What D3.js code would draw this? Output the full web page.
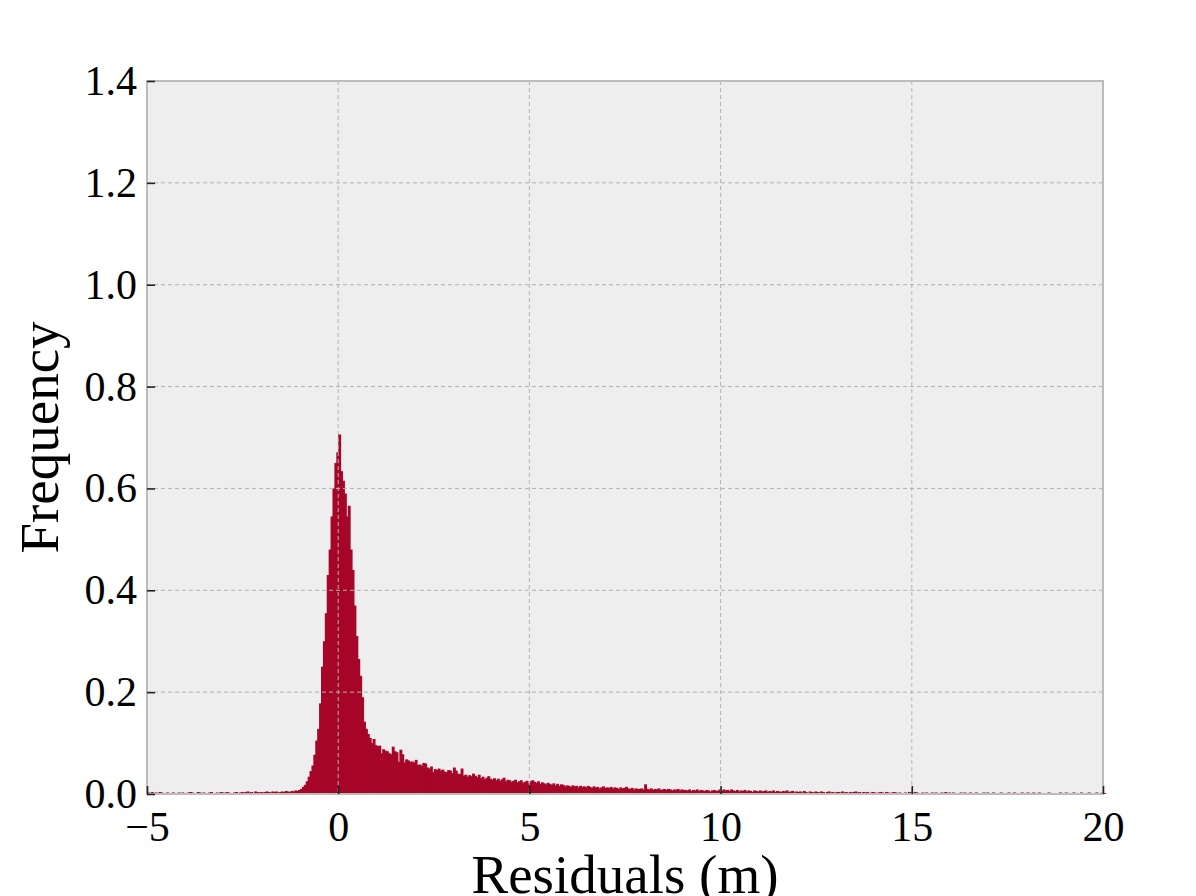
<!DOCTYPE html>
<meta charset="utf-8">
<style>
  body { margin: 0; background: #fff; }
  text { font-family: "Palatino Linotype", "Book Antiqua", Palatino, "Liberation Serif", serif; fill: #000; }
</style>
<body>
<script src="https://cdn.jsdelivr.net/npm/d3@7"></script>
<script>

    var width = 1196,
        height = 896;

    // histogram bins: start at -5, width 0.05
    var binStart = -5,
        binWidth = 0.05;

    var freq = [
        // -5 .. -3
        0.003,0.002,0.004,0,0.003,0.002,0.004,0.003,0,0.002,
        0.003,0,0.002,0.003,0.002,0,0.003,0.002,0.003,0,
        0.002,0.003,0.004,0.003,0,0.002,0.004,0.003,0.002,0.003,
        0,0.002,0.003,0.004,0.002,0,0.003,0.002,0.004,0.003,
        // -3 .. -1
        0.002,0.004,0.003,0.002,0,0.003,0.004,0.002,0.003,0.004,
        0.003,0.004,0.005,0.003,0.004,0.002,0.005,0.004,0.003,0.004,
        0.003,0.004,0.005,0.004,0.003,0.005,0.004,0.005,0.003,0.004,
        0.005,0.004,0.006,0.005,0.004,0.006,0.005,0.007,0.006,0.008,
        // -1 .. 0
        0.010,0.014,0.018,0.025,0.034,0.045,0.056,0.077,0.105,0.128,
        0.178,0.250,0.300,0.355,0.430,0.480,0.545,0.600,0.650,0.671,0.706,
        // 0 .. 1  (first value above closes the -0.05..0 bin)
        0.634,0.615,0.590,0.545,0.566,0.480,0.440,0.370,0.310,0.265,
        0.232,0.190,0.142,0.128,0.118,0.110,0.100,0.108,0.096,0.094,
        // 1 .. 2
        0.095,0.080,0.088,0.085,0.084,0.080,0.078,0.093,0.084,0.082,
        0.063,0.087,0.078,0.062,0.068,0.066,0.063,0.064,0.062,0.067,
        // 2 .. 3
        0.057,0.058,0.056,0.061,0.060,0.052,0.050,0.054,0.043,0.049,
        0.047,0.050,0.046,0.048,0.044,0.043,0.047,0.046,0.041,0.052,
        // 3 .. 4
        0.046,0.040,0.039,0.050,0.036,0.038,0.034,0.037,0.035,0.040,
        0.036,0.033,0.038,0.031,0.034,0.029,0.032,0.035,0.030,0.028,
        // 4 .. 5
        0.031,0.027,0.030,0.026,0.029,0.032,0.025,0.028,0.027,0.024,
        0.026,0.028,0.023,0.025,0.027,0.022,0.024,0.026,0.021,0.025,
        // 5 .. 6
        0.027,0.024,0.022,0.025,0.020,0.023,0.021,0.019,0.022,0.020,
        0.018,0.021,0.017,0.020,0.016,0.019,0.018,0.015,0.017,0.016,
        // 6 .. 7
        0.014,0.017,0.015,0.016,0.013,0.016,0.014,0.015,0.013,0.016,
        0.014,0.012,0.015,0.013,0.014,0.011,0.013,0.015,0.012,0.013,
        // 7 .. 8
        0.012,0.014,0.011,0.013,0.012,0.010,0.013,0.011,0.012,0.014,
        0.011,0.010,0.012,0.009,0.011,0.010,0.010,0.011,0.009,0.019,
        // 8 .. 9
        0.010,0.009,0.011,0.008,0.010,0.009,0.011,0.008,0.009,0.010,
        0.008,0.010,0.009,0.007,0.009,0.008,0.010,0.007,0.009,0.008,
        // 9 .. 10
        0.008,0.007,0.009,0.006,0.008,0.007,0.009,0.006,0.008,0.007,
        0.006,0.008,0.007,0.005,0.007,0.008,0.006,0.007,0.009,0.006,
        // 10 .. 11
        0.009,0.007,0.008,0.006,0.009,0.007,0.006,0.008,0.005,0.007,
        0.006,0.008,0.005,0.007,0.006,0.004,0.007,0.006,0.005,0.007,
        // 11 .. 12
        0.005,0.006,0.007,0.004,0.006,0.005,0.007,0.004,0.006,0.005,
        0.004,0.006,0.005,0.007,0.004,0.005,0.006,0.003,0.005,0.004,
        // 12 .. 13
        0.005,0.003,0.006,0.004,0.002,0.005,0.004,0.003,0.005,0.004,
        0.003,0.005,0.004,0.002,0.004,0.005,0.003,0.004,0.002,0.004,
        // 13 .. 14
        0.004,0.003,0.005,0.003,0.004,0.002,0.004,0.003,0.004,0.005,
        0.003,0.004,0.002,0.004,0.003,0.004,0.002,0.003,0.004,0.003,
        // 14 .. 15
        0.002,0.003,0.004,0.003,0.002,0.004,0.003,0.002,0.003,0.004,
        0.003,0.002,0.003,0,0.002,0.003,0.002,0.004,0.003,0.002,
        // 15 .. 16
        0.004,0.003,0.002,0,0.003,0.002,0.003,0.002,0,0.003,
        0.002,0.003,0,0.002,0.003,0.002,0.004,0.002,0.003,0,
        // 16 .. 17
        0.003,0.002,0.002,0,0.003,0.002,0.003,0,0.002,0.003,
        0,0.002,0.003,0.002,0,0.002,0.003,0.002,0.003,0,
        // 17 .. 18
        0.002,0.003,0.002,0,0.002,0.003,0.002,0.002,0,0.003,
        0.002,0.002,0.003,0.002,0.002,0,0.003,0.002,0.002,0.003,
        // 18 .. 19
        0.002,0,0.003,0.002,0.002,0.003,0.002,0,0.002,0.002,
        0.003,0.002,0.002,0.002,0,0.002,0.003,0.002,0.002,0.003,
        // 19 .. 20
        0.002,0.002,0,0.003,0.002,0.002,0.002,0.003,0,0.002,
        0.002,0.003,0.002,0,0.002,0.003,0.002,0.002,0.003,0.002
    ];

    var xTicks = [-5, 0, 5, 10, 15, 20];
    var yTicks = [0, 0.2, 0.4, 0.6, 0.8, 1.0, 1.2, 1.4];

    var xLabel = "Residuals (m)",
        yLabel = "Frequency";

    var barColor = "#A60628";

    var plotLeft = 147, plotRight = 1103, plotTop = 81, plotBottom = 794;

    var x = d3.scaleLinear().domain([-5, 20]).range([plotLeft, plotRight]);
    var y = d3.scaleLinear().domain([0, 1.4]).range([plotBottom, plotTop]);

    var svg = d3.select("body").append("svg")
            .attr("width", width)
            .attr("height", height);

    // plot background
    svg.append("rect")
            .attr("x", plotLeft).attr("y", plotTop)
            .attr("width", plotRight - plotLeft).attr("height", plotBottom - plotTop)
            .attr("fill", "#eeeeee");

    // bars (1px overlap so no antialias seams between neighbours)
    svg.append("g").selectAll("rect")
            .data(freq)
            .join("rect")
            .attr("x", function(d, i) { return x(binStart + i * binWidth); })
            .attr("width", function(d, i) { return x(binStart + (i + 1) * binWidth) - x(binStart + i * binWidth) + 1; })
            .attr("y", function(d) { return y(d); })
            .attr("height", function(d) { return y(0) - y(d); })
            .attr("fill", barColor);

    // grid on top of bars (matplotlib bmh style)
    var grid = svg.append("g").attr("class", "grid");
    grid.selectAll(".gx")
            .data(xTicks.slice(1, -1))
            .join("line")
            .attr("class", "gx")
            .attr("x1", function(d) { return x(d); }).attr("x2", function(d) { return x(d); })
            .attr("y1", plotTop).attr("y2", plotBottom);
    grid.selectAll(".gy")
            .data(yTicks.slice(1, -1))
            .join("line")
            .attr("class", "gy")
            .attr("y1", function(d) { return y(d); }).attr("y2", function(d) { return y(d); })
            .attr("x1", plotLeft).attr("x2", plotRight);
    grid.selectAll("line")
            .attr("stroke", "#b2b2b2")
            .attr("stroke-width", 1)
            .attr("stroke-dasharray", "4,3");

    // frame
    svg.append("rect")
            .attr("x", plotLeft).attr("y", plotTop)
            .attr("width", plotRight - plotLeft).attr("height", plotBottom - plotTop)
            .attr("fill", "none")
            .attr("stroke", "#bcbcbc")
            .attr("stroke-width", 2);

    // axes with inward ticks
    var xAxis = d3.axisBottom(x).tickValues(xTicks).tickFormat(d3.format("d"))
            .tickSizeInner(-8).tickSizeOuter(0).tickPadding(17);
    var yAxis = d3.axisLeft(y).tickValues(yTicks).tickFormat(d3.format(".1f"))
            .tickSizeInner(-8).tickSizeOuter(0).tickPadding(10);

    var gx = svg.append("g").attr("transform", "translate(0," + plotBottom + ")").call(xAxis);
    var gy = svg.append("g").attr("transform", "translate(" + plotLeft + ",0)").call(yAxis);

    [gx, gy].forEach(function(g) {
        g.select(".domain").remove();
        g.attr("font-family", null).attr("font-size", null);
        g.selectAll(".tick line").attr("stroke", "#222").attr("stroke-width", 1.6);
        g.selectAll(".tick text").style("font-size", "42px").attr("fill", "#000");
    });

    // axis titles
    svg.append("text")
            .attr("x", (plotLeft + plotRight) / 2)
            .attr("y", 893)
            .attr("text-anchor", "middle")
            .style("font-size", "55px")
            .text(xLabel);

    svg.append("text")
            .attr("transform", "translate(58," + ((plotTop + plotBottom) / 2) + ") rotate(-90)")
            .attr("text-anchor", "middle")
            .style("font-size", "55px")
            .text(yLabel);

</script>
